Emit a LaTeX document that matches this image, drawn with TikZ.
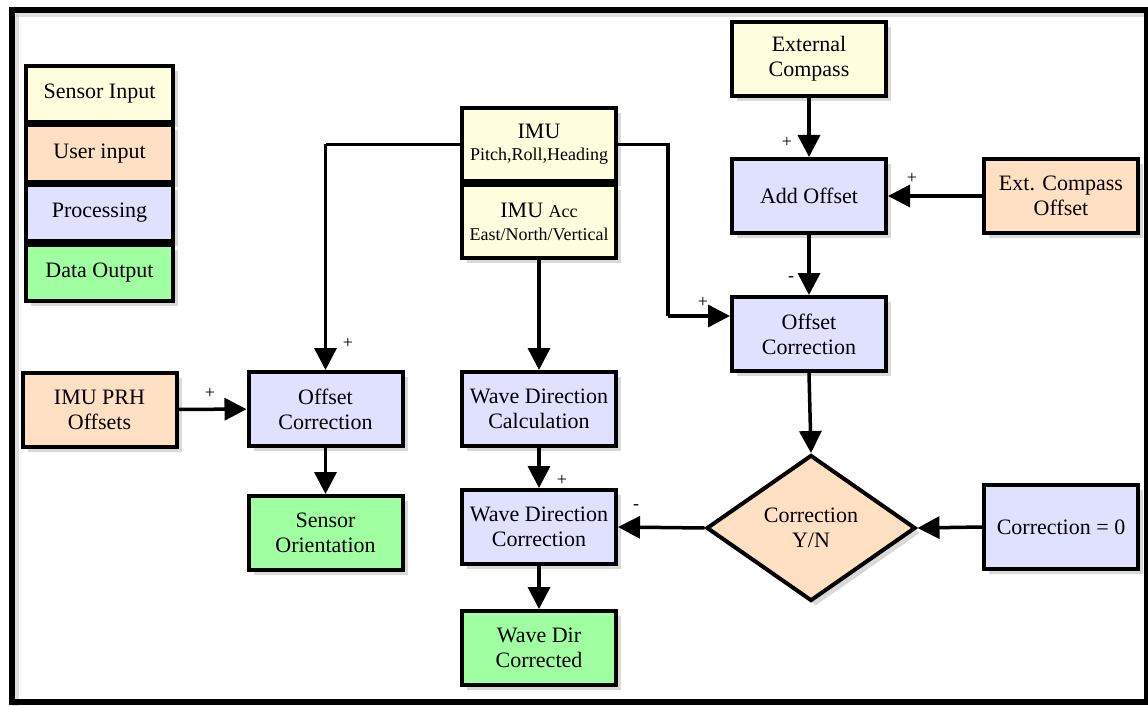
\documentclass[tikz,border=0pt]{standalone}
\usepackage{fontspec}
\setmainfont{Liberation Serif}
\newfontfamily\diagfont{Liberation Serif}
\usetikzlibrary{arrows.meta,shapes.geometric,shadows}

\definecolor{sensorin}{RGB}{255,255,224}
\definecolor{userin}{RGB}{255,224,194}
\definecolor{procblue}{RGB}{224,224,255}
\definecolor{dataout}{RGB}{160,255,160}

\begin{document}
\begin{tikzpicture}[x=1pt,y=-1pt,
  shade/.style={drop shadow={shadow xshift=5pt,shadow yshift=-5pt,opacity=0.3}},
  blk/.style={draw,line width=4pt,minimum width=154pt,minimum height=74pt,inner sep=2pt,
    align=center,font=\diagfont\fontsize{22}{25}\selectfont,shade},
  leg/.style={draw,line width=4pt,minimum width=147pt,minimum height=56pt,
    font=\diagfont\fontsize{22}{25}\selectfont,shade},
  sensor/.style={blk,fill=sensorin},
  user/.style={blk,fill=userin},
  proc/.style={blk,fill=procblue},
  output/.style={blk,fill=dataout},
  decide/.style={diamond,draw,line width=4pt,fill=userin,minimum width=209pt,minimum height=146pt,
    inner sep=0pt,align=center,font=\diagfont\fontsize{22}{25}\selectfont,shade},
  conn/.style={line width=3.5pt,-{Triangle[width=22pt,length=22pt]}},
  wire/.style={line width=3.5pt},
  sgn/.style={font=\diagfont\fontsize{18}{18}\selectfont,inner sep=0pt}]
\useasboundingbox (0,0) rectangle (1148,706);

% Outer frame
\draw[line width=6pt,black!25,opacity=0.5] (16,14) -- (1150,14);
\draw[line width=6pt,black!25,opacity=0.5] (16,14) -- (16,706);
\draw[line width=6pt] (12,10) rectangle (1147,702);

% Legend
\node[leg,fill=sensorin] (lsens) at (99.5,94) {Sensor Input};
\node[leg,fill=userin] (luser) at (99.5,153.5) {User input};
\node[leg,fill=procblue] (lproc) at (99.5,213) {Processing};
\node[leg,fill=dataout] (lout) at (99.5,272.5) {Data Output};

% IMU blocks
\node[sensor,minimum height=73pt] (imu) at (539,144.5)
  {IMU\\[-3pt]{\fontsize{18}{20}\selectfont Pitch,Roll,Heading}};
\node[sensor,minimum height=73pt] (imuacc) at (539,221.5)
  {IMU {\fontsize{18}{20}\selectfont Acc}\\[-2pt]{\fontsize{18}{20}\selectfont East/North/Vertical}};

% Compass branch
\node[sensor] (extcomp) at (809,59) {External\\Compass};
\node[proc] (addoff) at (809,196) {Add Offset};
\node[user] (extoff) at (1061,196) {Ext. Compass\\Offset};
\node[proc] (offcorr) at (809,334) {Offset\\Correction};
\node[decide] (corrYN) at (811,528) {Correction\\Y/N};
\node[proc,minimum height=84pt] (corrzero) at (1061,527) {Correction = 0};

% Wave direction branch
\node[proc] (wdcalc) at (539,409) {Wave Direction\\Calculation};
\node[proc] (wdcorr) at (539,527) {Wave Direction\\Correction};
\node[output] (wddone) at (539,648) {Wave Dir\\Corrected};

% Orientation branch
\node[user] (prh) at (99.5,409.5) {IMU PRH\\Offsets};
\node[proc] (offcorrL) at (325.5,409) {Offset\\Correction};
\node[output] (orient) at (325.5,533) {Sensor\\Orientation};

% Bends
\coordinate (bendL) at (325.5,144.5);
\coordinate (bendR) at (668,316);

% Connectors
\draw[conn] (extcomp) -- (addoff);
\draw[conn] (extoff) -- (addoff);
\draw[conn] (addoff) -- (offcorr);
\draw[wire] (imu.east) -| (bendR);
\draw[conn] (bendR) -- (bendR -| offcorr.west);
\draw[wire] (imu.west) -- (bendL);
\draw[conn] (bendL) -- (offcorrL.north);
\draw[conn] (prh) -- (offcorrL);
\draw[conn] (offcorrL) -- (orient);
\draw[conn] (imuacc) -- (wdcalc);
\draw[conn] (wdcalc) -- (wdcorr);
\draw[conn] (wdcorr) -- (wddone);
\draw[conn] (offcorr.south) -- (corrYN.north);
\draw[conn] (corrYN.west) -- (wdcorr.east);
\draw[conn] (corrzero.west) -- (corrYN.east);

% Signs
\node[sgn] (s1) at (787,142) {+};
\node[sgn] (s2) at (912,178) {+};
\node[sgn] (s3) at (791,279) {-};
\node[sgn] (s4) at (703,302) {+};
\node[sgn] (s5) at (348,343) {+};
\node[sgn] (s6) at (210,393) {+};
\node[sgn] (s7) at (562,480) {+};
\node[sgn] (s8) at (636,507) {-};

\end{tikzpicture}
\end{document}
